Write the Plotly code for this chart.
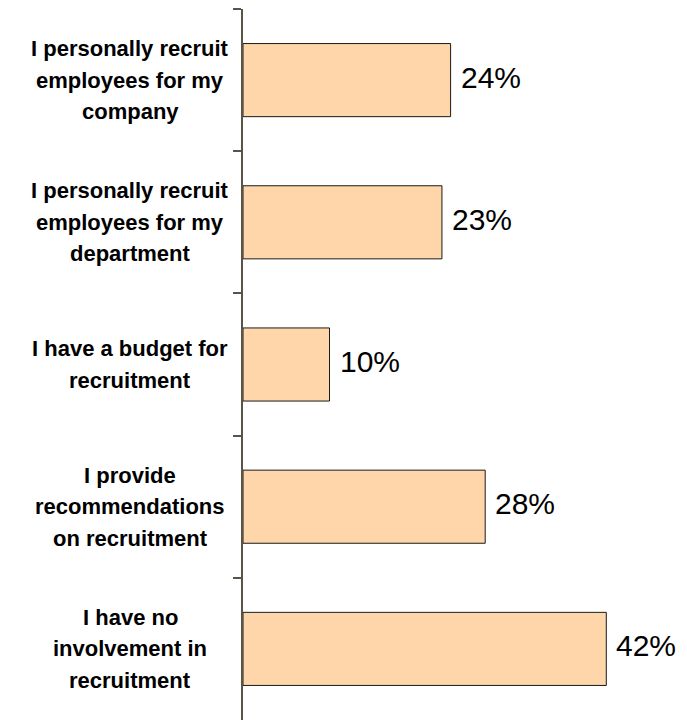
import plotly.graph_objects as go

# Survey categories (one entry per line of the label) and their shares in percent
label_lines = [
    ["I personally recruit", "employees for my", "company"],
    ["I personally recruit", "employees for my", "department"],
    ["I have a budget for", "recruitment"],
    ["I provide", "recommendations", "on recruitment"],
    ["I have no", "involvement in", "recruitment"],
]
categories = [" ".join(lines) for lines in label_lines]
values = [24, 23, 10, 28, 42]

W, H = 687, 720
ML, MR, MT, MB = 243, 0, 9, 0
plot_w = W - ML - MR
FONT = "Liberation Sans, Arial, sans-serif"
LINE_GAP = 31.5

fig = go.Figure(
    go.Bar(
        x=values,
        y=categories,
        orientation="h",
        marker=dict(color="#FFD6A9", line=dict(color="#1a1a1a", width=1)),
        hoverinfo="skip",
    )
)

annotations = []
# Category labels: centred, bold, one annotation per line
for cat, lines in zip(categories, label_lines):
    n = len(lines)
    for k, line in enumerate(lines):
        annotations.append(dict(
            x=(130 - ML) / plot_w, xref="paper", xanchor="center",
            y=cat, yref="y", yanchor="middle",
            yshift=-(k - (n - 1) / 2) * LINE_GAP,
            text=f"<b>{line}</b>", showarrow=False,
            font=dict(family=FONT, size=22, color="#000000"),
        ))
# Value labels to the right of each bar
for cat, v in zip(categories, values):
    annotations.append(dict(
        x=v, xref="x", xanchor="left", xshift=8,
        y=cat, yref="y", yanchor="middle", yshift=3,
        text=f"{v}%", showarrow=False,
        font=dict(family=FONT, size=30, color="#000000"),
    ))

fig.update_layout(
    width=W, height=H,
    margin=dict(l=ML, r=MR, t=MT, b=MB, pad=0),
    paper_bgcolor="white", plot_bgcolor="white",
    bargap=0.486,
    showlegend=False,
    annotations=annotations,
    xaxis=dict(range=[0, plot_w / 8.65], visible=False, fixedrange=True),
    yaxis=dict(
        type="category",
        autorange=False, range=[len(categories) - 0.5, -0.5],
        showline=True, linecolor="#595447", linewidth=1.5,
        ticks="outside", tickson="boundaries", ticklen=8,
        tickcolor="#595447", tickwidth=1.5,
        showticklabels=False, showgrid=False, zeroline=False,
    ),
)

fig.write_html("out.html")
